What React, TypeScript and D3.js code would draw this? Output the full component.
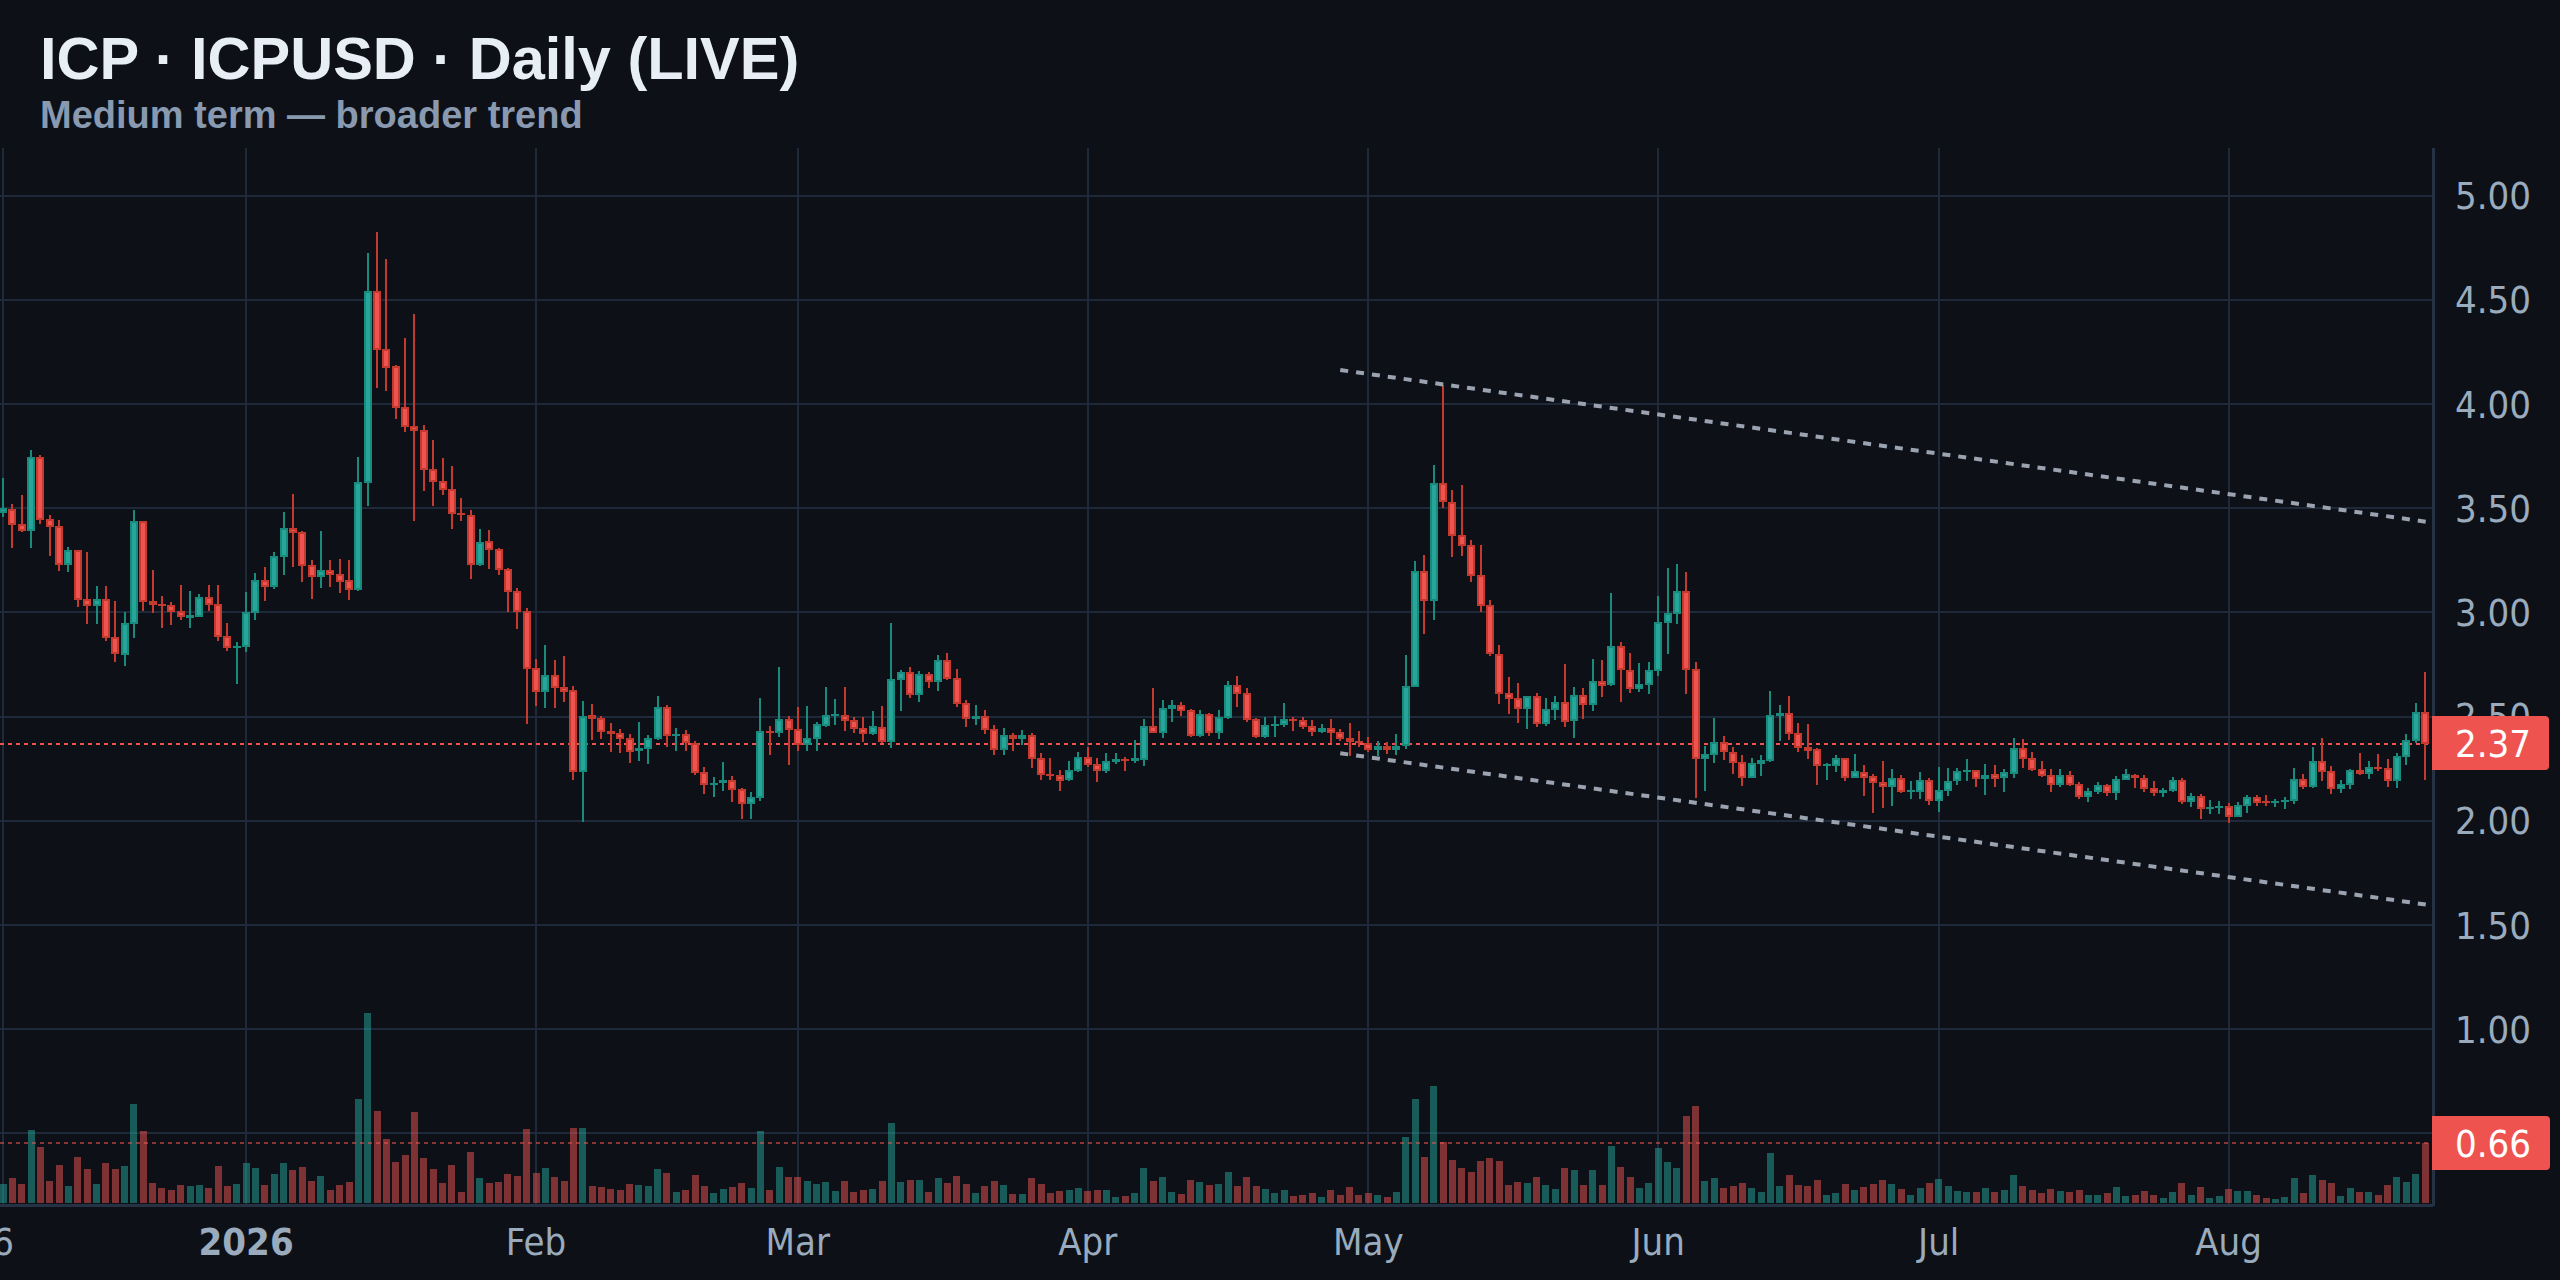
import React from "react";
import * as d3 from "d3";

const opens = [3.478,3.496,3.423,3.390,3.745,3.447,3.414,3.228,3.300,3.063,3.030,3.063,2.881,2.795,2.944,3.439,3.055,3.040,3.036,3.006,
2.975,2.977,3.073,3.040,2.887,2.830,2.834,2.997,3.155,3.122,3.265,3.404,3.386,3.228,3.169,3.204,3.185,3.155,3.108,3.621,
4.541,4.263,4.181,3.985,3.893,3.876,3.688,3.631,3.592,3.476,3.467,3.228,3.343,3.304,3.208,3.102,3.006,2.732,2.619,2.699,
2.642,2.629,2.235,2.507,2.493,2.431,2.421,2.397,2.333,2.345,2.393,2.546,2.409,2.417,2.373,2.234,2.171,2.181,2.196,2.152,
2.080,2.109,2.431,2.421,2.489,2.441,2.364,2.393,2.455,2.503,2.508,2.484,2.446,2.417,2.450,2.378,2.676,2.715,2.604,2.705,
2.667,2.772,2.686,2.566,2.489,2.503,2.441,2.340,2.412,2.393,2.412,2.301,2.224,2.220,2.196,2.239,2.306,2.272,2.239,2.282,
2.296,2.288,2.292,2.455,2.421,2.537,2.556,2.532,2.407,2.513,2.421,2.494,2.652,2.614,2.489,2.402,2.457,2.460,2.489,2.484,
2.455,2.426,2.446,2.426,2.398,2.383,2.374,2.340,2.359,2.340,2.359,2.642,3.198,3.054,3.620,3.529,3.371,3.323,3.179,3.035,
2.800,2.613,2.589,2.537,2.599,2.465,2.532,2.570,2.479,2.604,2.556,2.671,2.652,2.839,2.724,2.633,2.652,2.719,2.949,2.992,
3.102,2.728,2.297,2.316,2.379,2.331,2.283,2.206,2.273,2.288,2.503,2.518,2.422,2.355,2.345,2.262,2.264,2.302,2.206,2.235,
2.216,2.187,2.163,2.206,2.137,2.139,2.196,2.096,2.144,2.192,2.236,2.245,2.202,2.226,2.207,2.226,2.351,2.303,2.250,2.221,
2.173,2.221,2.178,2.115,2.139,2.173,2.135,2.197,2.221,2.207,2.159,2.135,2.144,2.197,2.091,2.120,2.058,2.064,2.072,2.019,
2.072,2.115,2.095,2.088,2.091,2.096,2.202,2.163,2.288,2.240,2.154,2.173,2.245,2.226,2.260,2.255,2.192,2.308,2.385,2.524];

const highs = [3.643,3.519,3.562,3.780,3.754,3.467,3.443,3.314,3.300,3.290,3.126,3.126,3.055,3.003,3.492,3.439,3.204,3.079,3.049,3.132,
3.102,3.089,3.132,3.132,2.950,2.858,3.098,3.189,3.218,3.290,3.482,3.568,3.390,3.251,3.390,3.251,3.255,3.251,3.745,4.724,
4.825,4.694,4.187,4.316,4.432,3.899,3.827,3.741,3.702,3.549,3.492,3.400,3.396,3.308,3.212,3.116,3.020,2.775,2.844,2.771,
2.791,2.646,2.576,2.560,2.503,2.470,2.441,2.417,2.474,2.412,2.599,2.556,2.446,2.436,2.383,2.258,2.210,2.282,2.215,2.157,
2.138,2.590,2.455,2.739,2.503,2.546,2.551,2.474,2.643,2.585,2.643,2.498,2.498,2.527,2.551,2.950,2.724,2.739,2.720,2.715,
2.796,2.806,2.729,2.580,2.556,2.532,2.460,2.446,2.421,2.436,2.421,2.325,2.301,2.244,2.287,2.330,2.354,2.301,2.325,2.325,
2.306,2.388,2.489,2.638,2.580,2.580,2.571,2.537,2.532,2.518,2.532,2.671,2.696,2.638,2.494,2.498,2.503,2.564,2.498,2.498,
2.484,2.465,2.489,2.441,2.470,2.431,2.403,2.383,2.379,2.417,2.796,3.246,3.275,3.706,4.089,3.586,3.610,3.347,3.323,3.059,
2.843,2.690,2.661,2.599,2.613,2.589,2.599,2.752,2.642,2.637,2.776,2.772,3.093,2.858,2.805,2.757,2.762,3.078,3.212,3.232,
3.193,2.762,2.359,2.494,2.407,2.355,2.316,2.302,2.316,2.623,2.556,2.599,2.470,2.465,2.350,2.278,2.316,2.302,2.321,2.268,
2.225,2.288,2.249,2.220,2.192,2.234,2.205,2.260,2.255,2.255,2.298,2.245,2.274,2.269,2.250,2.399,2.394,2.332,2.288,2.250,
2.250,2.240,2.188,2.159,2.188,2.178,2.216,2.250,2.226,2.221,2.192,2.159,2.212,2.207,2.135,2.130,2.101,2.096,2.087,2.091,
2.125,2.125,2.125,2.106,2.115,2.255,2.226,2.356,2.399,2.264,2.197,2.250,2.327,2.288,2.322,2.298,2.327,2.418,2.563,2.716];

const lows = [3.457,3.308,3.386,3.308,3.423,3.271,3.198,3.194,3.026,2.944,2.944,2.863,2.762,2.742,2.877,3.006,2.997,2.924,2.940,2.963,
2.924,2.977,3.006,2.863,2.815,2.656,2.811,2.963,3.055,3.112,3.179,3.218,3.145,3.063,3.116,3.122,3.093,3.059,3.102,3.510,
4.075,4.062,3.927,3.866,3.439,3.582,3.510,3.562,3.400,3.439,3.159,3.222,3.208,3.179,3.003,2.920,2.464,2.550,2.540,2.540,
2.570,2.196,1.994,2.388,2.392,2.331,2.325,2.278,2.288,2.272,2.388,2.354,2.335,2.335,2.220,2.128,2.114,2.143,2.090,2.008,
2.008,2.095,2.316,2.402,2.268,2.335,2.335,2.335,2.450,2.460,2.431,2.421,2.378,2.412,2.373,2.349,2.527,2.590,2.571,2.638,
2.623,2.676,2.546,2.450,2.460,2.417,2.316,2.316,2.335,2.364,2.253,2.196,2.196,2.143,2.191,2.234,2.258,2.186,2.229,2.272,
2.239,2.277,2.263,2.421,2.397,2.474,2.503,2.402,2.402,2.407,2.393,2.489,2.546,2.474,2.397,2.397,2.402,2.450,2.431,2.441,
2.407,2.422,2.374,2.383,2.311,2.355,2.331,2.311,2.321,2.316,2.345,2.642,2.896,2.963,3.500,3.265,3.270,3.145,3.002,2.791,
2.561,2.513,2.470,2.441,2.450,2.455,2.484,2.450,2.398,2.489,2.527,2.594,2.647,2.570,2.613,2.618,2.609,2.695,2.800,2.944,
2.609,2.110,2.144,2.278,2.292,2.225,2.168,2.206,2.216,2.283,2.383,2.388,2.331,2.297,2.173,2.196,2.233,2.192,2.206,2.120,
2.038,2.062,2.072,2.134,2.105,2.106,2.077,2.043,2.120,2.173,2.192,2.163,2.125,2.163,2.139,2.207,2.255,2.240,2.212,2.139,
2.163,2.168,2.106,2.091,2.130,2.120,2.101,2.197,2.159,2.139,2.120,2.115,2.139,2.082,2.067,2.010,2.034,2.034,1.990,2.019,
2.038,2.072,2.072,2.067,2.058,2.082,2.154,2.159,2.192,2.130,2.135,2.154,2.221,2.202,2.240,2.163,2.159,2.269,2.375,2.197];

const closes = [3.500,3.420,3.390,3.745,3.445,3.410,3.228,3.300,3.061,3.030,3.063,2.877,2.801,2.950,3.439,3.049,3.036,3.030,3.003,2.979,
2.987,3.073,3.036,2.881,2.828,2.838,3.003,3.155,3.122,3.271,3.404,3.380,3.222,3.169,3.204,3.179,3.145,3.108,3.625,4.541,
4.260,4.171,3.980,3.889,3.870,3.684,3.625,3.588,3.472,3.467,3.228,3.337,3.300,3.204,3.098,3.003,2.728,2.619,2.699,2.636,
2.619,2.235,2.503,2.488,2.427,2.417,2.392,2.331,2.349,2.396,2.546,2.407,2.417,2.373,2.229,2.171,2.181,2.196,2.147,2.080,
2.114,2.431,2.421,2.489,2.436,2.364,2.397,2.465,2.508,2.513,2.479,2.441,2.417,2.455,2.378,2.681,2.715,2.604,2.705,2.667,
2.772,2.681,2.561,2.489,2.503,2.436,2.340,2.412,2.393,2.412,2.296,2.220,2.216,2.191,2.244,2.306,2.268,2.239,2.287,2.296,
2.287,2.300,2.455,2.421,2.542,2.556,2.527,2.407,2.513,2.421,2.498,2.652,2.609,2.484,2.402,2.460,2.465,2.489,2.479,2.450,
2.426,2.446,2.422,2.393,2.379,2.374,2.340,2.359,2.340,2.359,2.647,3.198,3.054,3.620,3.529,3.366,3.318,3.174,3.030,2.800,
2.609,2.585,2.537,2.599,2.465,2.537,2.570,2.474,2.604,2.556,2.671,2.647,2.839,2.724,2.633,2.657,2.724,2.954,2.997,3.102,
2.724,2.297,2.321,2.379,2.331,2.278,2.206,2.278,2.292,2.508,2.518,2.417,2.350,2.335,2.264,2.272,2.302,2.206,2.240,2.206,
2.182,2.163,2.206,2.139,2.147,2.196,2.096,2.149,2.192,2.240,2.245,2.202,2.221,2.202,2.236,2.351,2.298,2.245,2.216,2.173,
2.221,2.173,2.115,2.144,2.173,2.135,2.202,2.226,2.207,2.154,2.135,2.149,2.197,2.091,2.120,2.058,2.067,2.072,2.019,2.077,
2.115,2.087,2.085,2.096,2.101,2.202,2.163,2.288,2.236,2.154,2.178,2.245,2.226,2.260,2.250,2.192,2.313,2.389,2.524,2.370];

const volumes = [.213,.279,.213,.807,.620,.246,.422,.191,.510,.378,.213,.444,.378,.411,1.082,.796,.224,.169,.147,.202,
.191,.202,.169,.411,.191,.213,.444,.389,.202,.323,.444,.367,.400,.246,.301,.147,.202,.235,1.137,2.083,
1.005,.708,.455,.532,.994,.499,.378,.224,.422,.125,.565,.279,.224,.235,.323,.301,.818,.334,.389,.290,
.246,.829,.829,.191,.180,.158,.147,.213,.202,.191,.378,.334,.125,.147,.312,.191,.114,.158,.180,.224,
.169,.796,.147,.400,.290,.290,.246,.213,.235,.136,.246,.125,.147,.158,.246,.884,.235,.257,.257,.125,
.279,.224,.301,.213,.114,.191,.246,.202,.103,.103,.279,.213,.114,.136,.147,.169,.136,.147,.147,.070,
.081,.114,.389,.246,.290,.125,.103,.257,.235,.202,.213,.345,.191,.290,.191,.158,.114,.147,.081,.092,
.114,.070,.147,.092,.180,.092,.114,.092,.070,.125,.730,1.137,.510,1.280,.675,.477,.389,.345,.466,.499,
.466,.202,.235,.224,.290,.202,.158,.389,.367,.202,.367,.202,.631,.400,.290,.169,.224,.609,.455,.389,
.950,1.060,.246,.279,.169,.191,.224,.169,.125,.554,.191,.312,.202,.191,.257,.092,.114,.213,.147,.180,
.213,.257,.213,.158,.092,.169,.224,.268,.191,.136,.125,.125,.169,.125,.147,.312,.191,.147,.114,.158,
.136,.125,.147,.092,.092,.114,.180,.081,.092,.136,.092,.059,.125,.224,.092,.180,.059,.081,.158,.136,
.136,.092,.059,.048,.070,.279,.114,.312,.257,.224,.081,.169,.125,.125,.092,.202,.290,.235,.323,.660];

const priceTicks = [0.5, 1, 1.5, 2, 2.5, 3, 3.5, 4, 4.5, 5];
const priceLabels = ["1.00", "1.50", "2.00", "2.50", "3.00", "3.50", "4.00", "4.50", "5.00"];
const timeTickDays = [0, 26, 57, 85, 116, 146, 177, 207, 238];
const timeTickLabels = ["6", "2026", "Feb", "Mar", "Apr", "May", "Jun", "Jul", "Aug"];
const upperTrendDays = [143, 259.3];
const upperTrendPrices = [4.163, 3.434];
const lowerTrendDays = [143, 259.3];
const lowerTrendPrices = [2.324, 1.597];
const lastPrice = 2.37;
const lastVolume = 0.66;

const BG = "#0d1117";
const GRID = "#1e2a3a";
const AXIS = "#243244";
const UP = "#26a69a";
const UP_DARK = "#1a8a7d";
const DOWN = "#ef5350";
const DOWN_DARK = "#c53a2e";
const AXIS_TEXT = "#9aabbd";
const FONT = "'DejaVu Sans Condensed', 'DejaVu Sans', sans-serif";
const FONT_SIZE = 38;

const W = 2560;
const H = 1280;
const PLOT_RIGHT = 2433;
const PLOT_TOP = 148;
const PLOT_BOTTOM = 1205;

const x = d3.scaleLinear().domain([0, 259]).range([3, 2425]);
const y = d3.scaleLinear().domain([2, 5]).range([820.8, 195.6]);
const vy = d3.scaleLinear().domain([0, 0.66]).range([1203.4, 1143]);
const trend = d3.line<number[]>().x((d) => x(d[0])).y((d) => y(d[1]));

export default function App() {
  return (
    <svg
      width={W}
      height={H}
      viewBox={`0 0 ${W} ${H}`}
      style={{ position: "absolute", left: 0, top: 0, display: "block", background: BG }}
    >
      <rect x={0} y={0} width={W} height={H} fill={BG} />
      <g shapeRendering="crispEdges">
        {priceTicks.map((p) => (
          <line key={p} x1={0} x2={PLOT_RIGHT} y1={y(p)} y2={y(p)} stroke={GRID} strokeWidth={2} />
        ))}
        {timeTickDays.map((d) => (
          <line key={d} x1={x(d)} x2={x(d)} y1={PLOT_TOP} y2={PLOT_BOTTOM} stroke={GRID} strokeWidth={2} />
        ))}
      </g>

      <g shapeRendering="crispEdges">
        {volumes.map((v, i) => (
          <rect
            key={i}
            x={x(i) - 3.5}
            width={7}
            y={vy(v)}
            height={vy(0) - vy(v)}
            fill={closes[i] >= opens[i] ? UP : DOWN}
            fillOpacity={0.5}
          />
        ))}
      </g>

      <line x1={0} x2={PLOT_RIGHT} y1={y(lastPrice)} y2={y(lastPrice)} stroke={DOWN} strokeWidth={2} strokeDasharray="4 4" shapeRendering="crispEdges" />
      <line x1={0} x2={PLOT_RIGHT} y1={vy(lastVolume)} y2={vy(lastVolume)} stroke={DOWN} strokeOpacity={0.55} strokeWidth={2} strokeDasharray="4 4" shapeRendering="crispEdges" />

      <g shapeRendering="crispEdges">
        {opens.map((o, i) => {
          const c = closes[i];
          const up = c >= o;
          const top = y(Math.max(o, c));
          const bot = y(Math.min(o, c));
          const cx = x(i);
          return (
            <g key={i}>
              <line x1={cx} x2={cx} y1={y(highs[i])} y2={y(lows[i])} stroke={up ? UP_DARK : DOWN_DARK} strokeWidth={2} />
              <rect x={cx - 4} y={top} width={8} height={Math.max(bot - top, 2)} fill={up ? UP_DARK : DOWN_DARK} />
              {bot - top > 4 && <rect x={cx - 2} y={top + 2} width={4} height={bot - top - 4} fill={up ? UP : DOWN} />}
            </g>
          );
        })}
      </g>

      <path d={trend([[upperTrendDays[0], upperTrendPrices[0]], [upperTrendDays[1], upperTrendPrices[1]]]) ?? ""} fill="none" stroke="#9aa3af" strokeWidth={4} strokeDasharray="8 8" />
      <path d={trend([[lowerTrendDays[0], lowerTrendPrices[0]], [lowerTrendDays[1], lowerTrendPrices[1]]]) ?? ""} fill="none" stroke="#9aa3af" strokeWidth={4} strokeDasharray="8 8" />

      <g shapeRendering="crispEdges">
        <line x1={PLOT_RIGHT} x2={PLOT_RIGHT} y1={PLOT_TOP} y2={PLOT_BOTTOM + 1} stroke={AXIS} strokeWidth={3} />
        <line x1={0} x2={PLOT_RIGHT} y1={PLOT_BOTTOM} y2={PLOT_BOTTOM} stroke={AXIS} strokeWidth={3} />
      </g>

      <g fontFamily={FONT} fontSize={FONT_SIZE} fill={AXIS_TEXT}>
        {priceLabels.map((l) => (
          <text key={l} x={2531} y={y(+l) + 13.5} textAnchor="end">{l}</text>
        ))}
      </g>
      <g fontFamily={FONT} fontSize={FONT_SIZE} fill={AXIS_TEXT} textAnchor="middle">
        {timeTickLabels.map((l, i) => (
          <text key={l} x={x(timeTickDays[i])} y={1255} fontWeight={l === "2026" ? 700 : 400}>{l}</text>
        ))}
      </g>

      <path d={`M${PLOT_RIGHT - 1} 716H2545a4 4 0 0 1 4 4V766a4 4 0 0 1 -4 4H${PLOT_RIGHT - 1}Z`} fill={DOWN} />
      <text x={2531} y={757} textAnchor="end" fontFamily={FONT} fontSize={FONT_SIZE} fill="#ffffff">{lastPrice.toFixed(2)}</text>
      <path d={`M${PLOT_RIGHT - 1} 1116H2546a4 4 0 0 1 4 4V1166a4 4 0 0 1 -4 4H${PLOT_RIGHT - 1}Z`} fill={DOWN} />
      <text x={2531} y={1157} textAnchor="end" fontFamily={FONT} fontSize={FONT_SIZE} fill="#ffffff">{lastVolume.toFixed(2)}</text>

      <text x={40} y={79} fontFamily="'Liberation Sans', Arial, sans-serif" fontWeight={700} fontSize={59.5} fill="#e8eef6">ICP · ICPUSD · Daily (LIVE)</text>
      <text x={40} y={128} fontFamily="'Liberation Sans', Arial, sans-serif" fontWeight={700} fontSize={38} fill="#8899b0">Medium term — broader trend</text>
    </svg>
  );
}
